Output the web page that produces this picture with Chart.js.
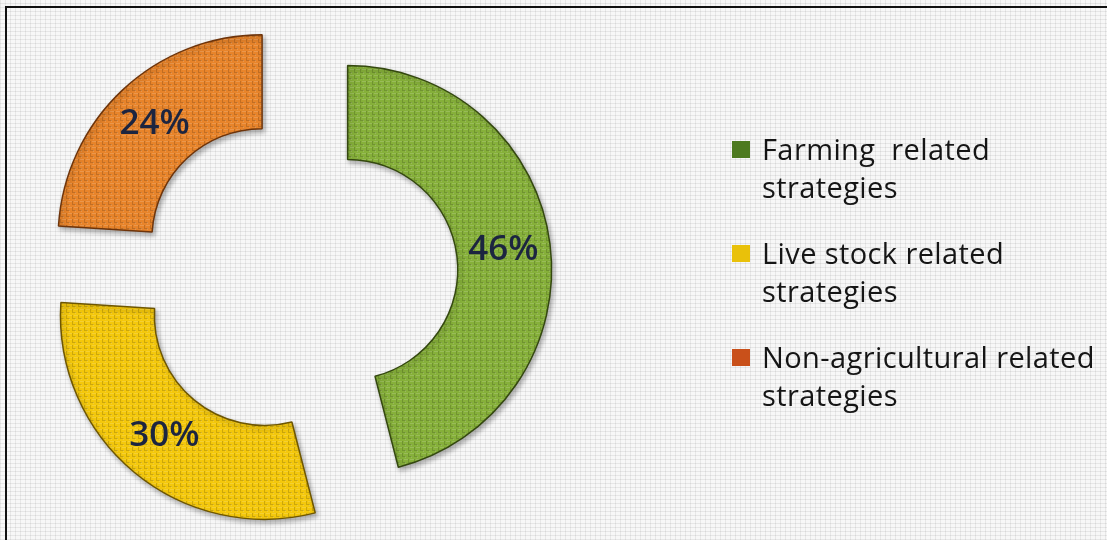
<!DOCTYPE html>
<html>
<head>
<meta charset="utf-8">
<script src="https://cdn.jsdelivr.net/npm/chart.js@4/dist/chart.umd.min.js"></script>
<style>
  html, body { margin: 0; padding: 0; }
  body {
    width: 1107px; height: 540px; overflow: hidden; position: relative;
    background-color: #f7f7f7;
    background-image:
      repeating-linear-gradient(0deg, rgba(90,90,90,0.11) 0 1px, transparent 1px 4px),
      repeating-linear-gradient(90deg, rgba(90,90,90,0.10) 0 1px, transparent 1px 5px);
  }
  #frame {
    position: absolute; left: 5px; top: 6px; right: 0; bottom: 0;
    border-left: 2px solid #111; border-top: 2px solid #111;
  }
  #chart { position: absolute; left: 0; top: 0; }
  #legend {
    position: absolute; left: 732px; top: 0;
    font-family: "Open Sans", Lato, sans-serif; font-size: 29px; letter-spacing: 0.4px; color: #151515;
  }
  .item { position: absolute; left: 0; width: 380px; line-height: 38px; padding-left: 30px; white-space: pre; }
  .box { position: absolute; left: 0; top: 11px; width: 18px; height: 17px; }
</style>
</head>
<body>
<div id="frame"></div>
<canvas id="chart" width="1107" height="540"></canvas>
<div id="legend"></div>
<script>
// Coping strategies, share of households (%)
const categories = [
  ['Farming  related', 'strategies'],
  ['Live stock related', 'strategies'],
  ['Non-agricultural related', 'strategies']
];
const shares = [46, 30, 24];
const sliceColors = ['#86b03a', '#f4c80c', '#e8842a'];
const edgeColors = ['#34480f', '#6e5600', '#6e340a'];
const legendColors = ['#4d7a1f', '#e9c10a', '#c9501a'];

// small woven tile used as the fill texture of each slice
function wovenPattern(color) {
  const t = document.createElement('canvas');
  t.width = 6; t.height = 6;
  const c = t.getContext('2d');
  c.fillStyle = color; c.fillRect(0, 0, 6, 6);
  c.fillStyle = 'rgba(0,0,0,0.16)';
  c.fillRect(0, 0, 4, 1);
  c.fillRect(0, 3, 1, 3);
  c.fillStyle = 'rgba(255,255,255,0.16)';
  c.fillRect(2, 3, 4, 1);
  c.fillRect(3, 0, 1, 2);
  return c.createPattern(t, 'repeat');
}

// pull every slice away from the centre by the same distance
const explode = 51;
const explodeSlices = {
  id: 'explodeSlices',
  afterUpdate(chart) {
    chart.getDatasetMeta(0).data.forEach(arc => {
      const mid = (arc.startAngle + arc.endAngle) / 2;
      arc.x += Math.cos(mid) * explode;
      arc.y += Math.sin(mid) * explode;
    });
  }
};

const sliceLabels = {
  id: 'sliceLabels',
  afterDatasetsDraw(chart) {
    const ctx = chart.ctx;
    const meta = chart.getDatasetMeta(0);
    ctx.save();
    ctx.font = '600 35px "Open Sans", Lato, sans-serif';
    ctx.fillStyle = '#1c2540';
    ctx.textAlign = 'center';
    ctx.textBaseline = 'middle';
    meta.data.forEach((arc, i) => {
      const mid = (arc.startAngle + arc.endAngle) / 2;
      const r = (arc.innerRadius + arc.outerRadius) / 2;
      ctx.fillText(shares[i] + '%', arc.x + Math.cos(mid) * r, arc.y + Math.sin(mid) * r);
    });
    ctx.restore();
  }
};

const sliceShadow = {
  id: 'sliceShadow',
  beforeDatasetsDraw(chart) {
    const ctx = chart.ctx;
    ctx.save();
    ctx.shadowColor = 'rgba(0,0,0,0.30)';
    ctx.shadowBlur = 5;
    ctx.shadowOffsetX = 2;
    ctx.shadowOffsetY = 3;
  },
  afterDatasetsDraw(chart) { chart.ctx.restore(); }
};

new Chart(document.getElementById('chart'), {
  type: 'doughnut',
  data: {
    labels: categories,
    datasets: [{
      data: shares,
      backgroundColor: sliceColors.map(wovenPattern),
      borderColor: edgeColors,
      borderWidth: 1.5,
      hoverOffset: 0
    }]
  },
  options: {
    responsive: false,
    animation: false,
    devicePixelRatio: 1,
    radius: 204,
    cutout: '54%',
    layout: { padding: { left: 0, right: 513, top: 12, bottom: 0 } },
    plugins: { legend: { display: false }, tooltip: { enabled: false } }
  },
  plugins: [explodeSlices, sliceShadow, sliceLabels]
});

// legend beside the ring
const legend = document.getElementById('legend');
categories.forEach((lines, i) => {
  const item = document.createElement('div');
  item.className = 'item';
  item.style.top = (130 + i * 104) + 'px';
  const box = document.createElement('span');
  box.className = 'box';
  box.style.background = legendColors[i];
  item.appendChild(box);
  item.appendChild(document.createTextNode(lines.join('\n')));
  legend.appendChild(item);
});
</script>
</body>
</html>
